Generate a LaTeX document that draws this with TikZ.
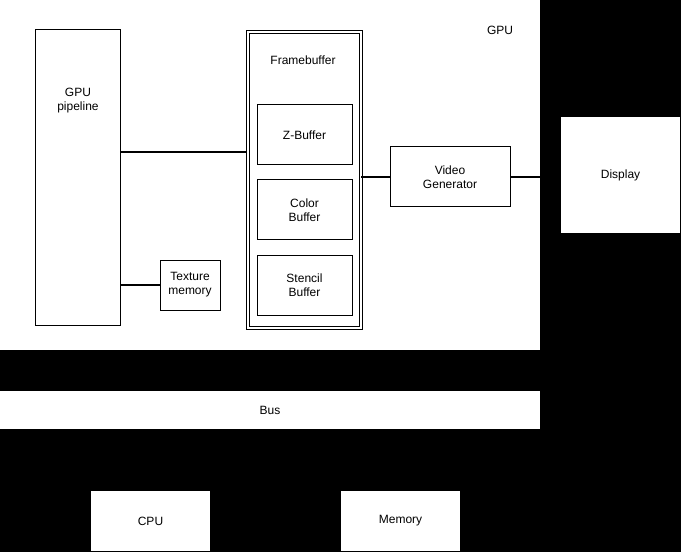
\documentclass[tikz,border=0pt]{standalone}
\usepackage{fontspec}
\setmainfont{Liberation Sans}
\begin{document}
\begin{tikzpicture}[x=0.75pt, y=-0.75pt,
  every node/.style = {font=\fontsize{9}{10.5}\selectfont, align=center},
  box/.style = {shape=rectangle, draw=black, fill=white,
    line width=0.75pt, inner sep=0pt},
  link/.style = {draw=black, line width=1.5pt}]
  \fill[black] (0,0) rectangle (681,552);
  \useasboundingbox (0,0) rectangle (681,552);
  % GPU and its parts
  \node[box, draw=none, minimum width=405pt, minimum height=262.5pt] (gpu) at (270,175) {};
  \node (gpulabel) at (500,30) {GPU};
  \node[box, minimum width=63.75pt, minimum height=221.25pt] (pipe) at (77.5,177.5) {};
  \node (pipelabel) at (78,101) {GPU\\pipeline};
  \node[box, minimum width=45pt, minimum height=37.5pt] (tex) at (190,285) {Texture\\memory};
  \node[box, double, double distance=1.5pt, minimum width=84.75pt, minimum height=221.25pt] (fb) at (304,180) {};
  \node (fblabel) at (303,60) {Framebuffer};
  \node[box, minimum width=71.25pt, minimum height=45pt] (zbuf) at (304.5,135) {Z-Buffer};
  \node[box, minimum width=71.25pt, minimum height=45pt] (cbuf) at (304.5,210) {Color\\Buffer};
  \node[box, minimum width=71.25pt, minimum height=45pt] (sbuf) at (304.5,285) {Stencil\\Buffer};
  \node[box, minimum width=90pt, minimum height=45pt] (video) at (450,177) {Video\\Generator};
  % outside the GPU
  \node[box, draw=none, minimum width=89.25pt, minimum height=87pt] (display) at (620.5,175) {Display};
  \node[box, draw=none, minimum width=405pt, minimum height=28.5pt] (bus) at (270,410) {Bus};
  \node[box, draw=none, minimum width=89.25pt, minimum height=45pt] (cpu) at (150.5,521) {CPU};
  \node[box, draw=none, minimum width=89.25pt, minimum height=45pt] (mem) at (400.5,521) {Memory};
  % links
  \draw[link] (pipe.east |- 0,152) -- (fb.west |- 0,152);
  \draw[link] (pipe.east |- tex.west) -- (tex.west);
  \draw[link] (fb.east |- video.west) -- (video.west);
  \draw[link] (video.east) -- (display.west |- video.east);
\end{tikzpicture}
\end{document}
